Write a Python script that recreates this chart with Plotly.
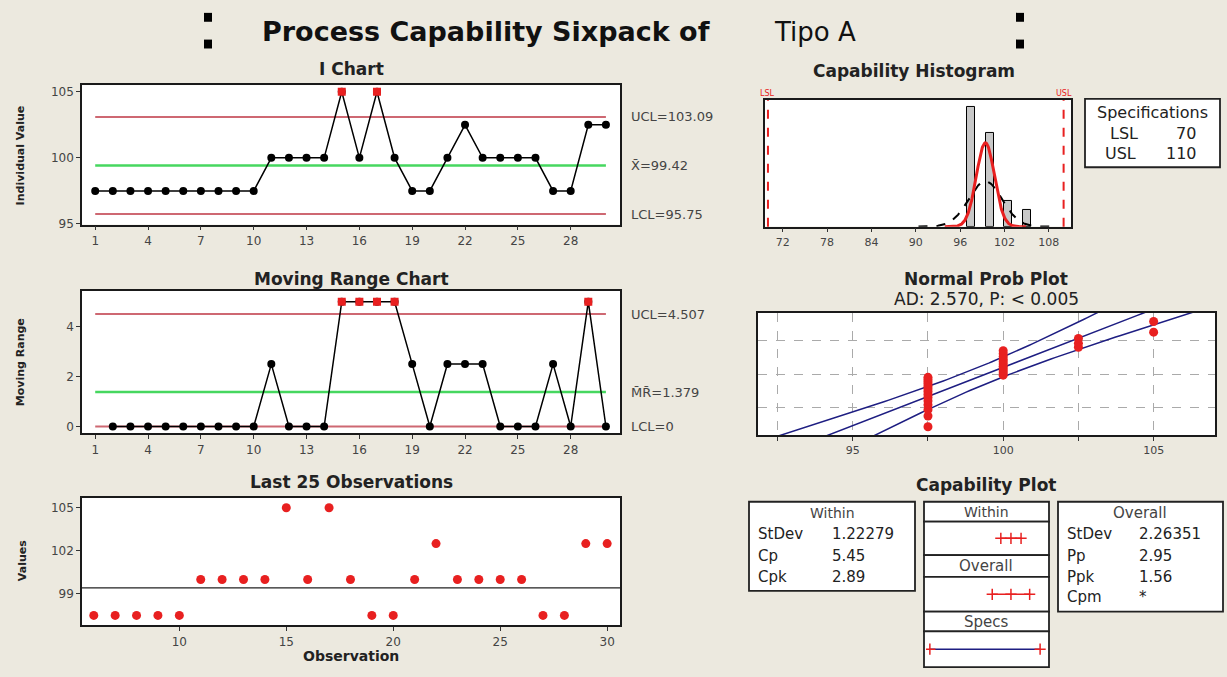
import plotly.graph_objects as go
from statistics import NormalDist

# ---------------- data ----------------
observations = list(range(1, 31))
individual_values = [97.5, 97.5, 97.5, 97.5, 97.5, 97.5, 97.5, 97.5, 97.5, 97.5,
                     100, 100, 100, 100, 105, 100, 105, 100, 97.5, 97.5,
                     100, 102.5, 100, 100, 100, 100, 97.5, 97.5, 102.5, 102.5]
mr_observations = list(range(2, 31))
moving_ranges = [0, 0, 0, 0, 0, 0, 0, 0, 0, 2.5,
                 0, 0, 0, 5, 5, 5, 5, 2.5, 0, 2.5,
                 2.5, 2.5, 0, 0, 0, 2.5, 0, 5, 0]
i_flagged = [15, 17]
mr_flagged = [15, 16, 17, 18, 29]
i_ucl, i_center, i_lcl = 103.09, 99.42, 95.75
mr_ucl, mr_center, mr_lcl = 4.507, 1.379, 0.0
last25_obs = observations[5:]
last25_values = individual_values[5:]
hist_centers = [97.5, 100, 102.5, 105]
hist_counts = [14, 11, 3, 2]
hist_ticks = [72, 78, 84, 90, 96, 102, 108]
lsl, usl = 70, 110
stdev_within = 1.22279
stdev_overall = 2.26351
cp, cpk = "5.45", "2.89"
pp, ppk, cpm = "2.95", "1.56", "*"
ad_text = "AD: 2.570, P: < 0.005"
n_obs = len(individual_values)

# ---------------- helpers ----------------
W, H = 1227, 677
def px(x):
    return x / W
def py(y):
    return 1 - y / H

BG = "rgb(236,233,223)"
FONT = "DejaVu Sans"
LIM = "rgb(206,104,114)"
GREEN = "rgb(70,215,95)"
RED = "rgb(232,32,32)"
NAVY = "rgb(30,30,130)"

def base_axis(rng, **kw):
    d = dict(range=rng, showline=True, mirror=True, linecolor="#1a1a1a", linewidth=1.5,
             ticks="outside", ticklen=4, tickcolor="#333", showgrid=False, zeroline=False,
             tickfont=dict(size=12, color="#444", family=FONT), fixedrange=True)
    d.update(kw)
    return d

def xax(xr, rng, **kw):
    d = base_axis(rng, **kw)
    d["domain"] = [px(xr[0]), px(xr[1])]
    return d

def yax(yr, rng, **kw):
    d = base_axis(rng, **kw)
    d["domain"] = [py(yr[1]), py(yr[0])]
    return d

fig = go.Figure()
L, R = 82, 620

# ---------------- I chart ----------------
for yv in (i_ucl, i_lcl):
    fig.add_trace(go.Scatter(x=[observations[0], observations[-1]], y=[yv, yv], mode="lines",
                             line=dict(color=LIM, width=2), xaxis="x", yaxis="y"))
fig.add_trace(go.Scatter(x=[observations[0], observations[-1]], y=[i_center, i_center], mode="lines",
                         line=dict(color=GREEN, width=2.5), xaxis="x", yaxis="y"))
fig.add_trace(go.Scatter(x=observations, y=individual_values, mode="lines+markers",
                         line=dict(color="black", width=1.5), marker=dict(color="black", size=8),
                         xaxis="x", yaxis="y"))
fig.add_trace(go.Scatter(x=i_flagged, y=[individual_values[o - 1] for o in i_flagged], mode="markers",
                         marker=dict(color=RED, size=8, symbol="square"), xaxis="x", yaxis="y"))

# ---------------- MR chart ----------------
for yv in (mr_ucl, mr_lcl):
    fig.add_trace(go.Scatter(x=[observations[0], observations[-1]], y=[yv, yv], mode="lines",
                             line=dict(color=LIM, width=2), xaxis="x2", yaxis="y2"))
fig.add_trace(go.Scatter(x=[observations[0], observations[-1]], y=[mr_center, mr_center], mode="lines",
                         line=dict(color=GREEN, width=2.5), xaxis="x2", yaxis="y2"))
fig.add_trace(go.Scatter(x=mr_observations, y=moving_ranges, mode="lines+markers",
                         line=dict(color="black", width=1.5), marker=dict(color="black", size=8),
                         xaxis="x2", yaxis="y2"))
fig.add_trace(go.Scatter(x=mr_flagged, y=[moving_ranges[o - 2] for o in mr_flagged], mode="markers",
                         marker=dict(color=RED, size=8, symbol="square"), xaxis="x2", yaxis="y2"))

# ---------------- Last 25 ----------------
fig.add_trace(go.Scatter(x=last25_obs, y=last25_values, mode="markers",
                         marker=dict(color=RED, size=9), xaxis="x3", yaxis="y3"))

# ---------------- Histogram ----------------
fig.add_trace(go.Bar(x=hist_centers, y=hist_counts, width=1.1,
                     marker=dict(color="rgb(200,200,200)", line=dict(color="black", width=1)),
                     xaxis="x4", yaxis="y4"))
curve_scale = n_obs * 1.0
nd_w = NormalDist(i_center, stdev_within)
nd_o = NormalDist(i_center, stdev_overall)
xs_w = [i_center - 4.5 * stdev_within + k * (9 * stdev_within) / 200 for k in range(201)]
xs_o = [i_center - 4.0 * stdev_overall + k * (8 * stdev_overall) / 200 for k in range(201)]
fig.add_trace(go.Scatter(x=xs_o, y=[nd_o.pdf(v) * curve_scale for v in xs_o], mode="lines",
                         line=dict(color="black", width=2, dash="dash"), xaxis="x4", yaxis="y4"))
fig.add_trace(go.Scatter(x=xs_w, y=[nd_w.pdf(v) * curve_scale for v in xs_w], mode="lines",
                         line=dict(color=RED, width=3), xaxis="x4", yaxis="y4"))

# ---------------- Normal probability plot ----------------
sv = sorted(individual_values)
std_n = NormalDist()
zs = [std_n.inv_cdf((i + 1 - 0.3) / (n_obs + 0.4)) for i in range(n_obs)]
zline = [-2.6 + k * 5.2 / 100 for k in range(101)]
mid = [i_center + z * stdev_overall for z in zline]
half = [1.96 * stdev_overall * ((1 + z * z / 2) / n_obs) ** 0.5 for z in zline]
for sign in (-1, 0, 1):
    fig.add_trace(go.Scatter(x=[m + sign * h for m, h in zip(mid, half)], y=zline, mode="lines",
                             line=dict(color=NAVY, width=1.5), xaxis="x5", yaxis="y5"))
fig.add_trace(go.Scatter(x=sv, y=zs, mode="markers", marker=dict(color=RED, size=9),
                         xaxis="x5", yaxis="y5"))

# ---------------- Capability plot mini panels ----------------
within_marks = [i_lcl, i_center, i_ucl]
overall_marks = [i_center - 3 * stdev_overall, i_center, i_center + 3 * stdev_overall]
spec_marks = [lsl, usl]
for xs, ax_id, lc in ((within_marks, "6", RED), (overall_marks, "7", RED), (spec_marks, "8", NAVY)):
    fig.add_trace(go.Scatter(x=xs, y=[0.5] * len(xs), mode="lines+markers",
                             line=dict(color=lc, width=1.5),
                             marker=dict(symbol="cross-thin", size=8, color=RED, line=dict(color=RED, width=1.5)),
                             xaxis="x" + ax_id, yaxis="y" + ax_id))

# ---------------- layout / axes ----------------
layout = dict(
    width=W, height=H, margin=dict(l=0, r=0, t=0, b=0),
    paper_bgcolor=BG, plot_bgcolor="white", showlegend=False,
    font=dict(family=FONT, color="#333"), bargap=0,
)
layout["xaxis"] = xax((L, R), [0.25, 30.8], tickvals=observations[::3], anchor="y")
layout["yaxis"] = yax((86, 227), [94.95, 105.5], tickvals=[95, 100, 105], anchor="x")
layout["xaxis2"] = xax((L, R), [0.25, 30.8], tickvals=observations[::3], anchor="y2")
layout["yaxis2"] = yax((294, 438), [-0.28, 5.43], tickvals=[0, 2, 4], anchor="x2")
layout["xaxis3"] = xax((L, R), [5.45, 30.6], tickvals=[10, 15, 20, 25, 30], anchor="y3")
layout["yaxis3"] = yax((503, 632), [96.8, 105.69], tickvals=[99, 102, 105], anchor="x3")
layout["xaxis4"] = xax((765, 1071), [69.6, 111], tickvals=hist_ticks, anchor="y4",
                       tickfont=dict(size=11, color="#444", family=FONT))
layout["yaxis4"] = yax((101, 229), [0, 14.8], showticklabels=False, ticks="", anchor="x4")
layout["xaxis5"] = xax((758, 1215), [91.85, 107.04], tickvals=[92.5, 95, 97.5, 100, 102.5, 105],
                       ticktext=["", "95", "", "100", "", "105"], showgrid=True,
                       gridcolor="rgb(170,170,170)", griddash="dash", gridwidth=1, anchor="y5",
                       tickfont=dict(size=11, color="#444", family=FONT))
layout["yaxis5"] = yax((316, 440), [-2.326, 2.326], tickvals=[-1.2816, 0, 1.2816], showticklabels=False,
                       ticks="", showgrid=True, gridcolor="rgb(170,170,170)", griddash="dash", anchor="x5")
cap_rows = {"6": (527, 561), "7": (583, 618), "8": (638, 674)}
for k, (t, b) in cap_rows.items():
    layout["xaxis" + k] = dict(domain=[px(926), px(1047)], range=[68.6, 112.5], visible=False,
                               anchor="y" + k, fixedrange=True)
    layout["yaxis" + k] = dict(domain=[py(b), py(t)], range=[0, 1], visible=False,
                               anchor="x" + k, fixedrange=True)
fig.update_layout(**layout)

# ---------------- shapes ----------------
shapes = []
for (x0, y0) in ((204, 13), (204, 40), (1016, 13), (1016, 40)):
    shapes.append(dict(type="rect", xref="paper", yref="paper", x0=px(x0), x1=px(x0 + 8),
                       y0=py(y0 + 9), y1=py(y0), fillcolor="black", line=dict(width=0)))
shapes.append(dict(type="line", xref="x3 domain", yref="y3", x0=0, x1=1, y0=i_center, y1=i_center,
                   line=dict(color="#222", width=1.2)))
for v in (lsl, usl):
    shapes.append(dict(type="line", xref="x4", yref="y4 domain", x0=v, x1=v, y0=0, y1=1,
                       line=dict(color=RED, width=2, dash="dash")))
def box(x0, y0, x1, y1, fill="white", w=1.8):
    shapes.append(dict(type="rect", xref="paper", yref="paper", x0=px(x0), x1=px(x1),
                       y0=py(y1), y1=py(y0), fillcolor=fill, line=dict(color="#222", width=w),
                       layer="below"))
box(1085, 100, 1220, 169)
box(749, 507, 915, 597)
box(1058, 507, 1223, 618)
for (t, b) in ((507, 527), (527, 561), (561, 583), (583, 618), (618, 638), (638, 674)):
    box(924, t, 1049, b)
fig.update_layout(shapes=shapes)

# ---------------- annotations ----------------
ann = []
def text(x, y, s, size=12, anchor="center", color="#333", bold=False, angle=0, yanchor="middle"):
    ann.append(dict(x=px(x), y=py(y), xref="paper", yref="paper", text=("<b>%s</b>" % s) if bold else s,
                    showarrow=False, xanchor=anchor, yanchor=yanchor, textangle=angle,
                    font=dict(size=size, color=color, family=FONT)))

text(260, 32, "Process Capability Sixpack of", size=27, anchor="left", color="#111", bold=True)
text(772, 32, "Tipo A", size=26, anchor="left", color="#111")
text(351, 70, "I Chart", size=17, bold=True, color="#222")
text(351, 282, "Moving Range Chart", size=17, bold=True, color="#222")
text(351, 487, "Last 25 Observations", size=17, bold=True, color="#222")
text(914, 72, "Capability Histogram", size=17, bold=True, color="#222")
text(986, 282, "Normal Prob Plot", size=17, bold=True, color="#222")
text(986, 302, ad_text, size=17, color="#222")
text(986, 490, "Capability Plot", size=17, bold=True, color="#222")
text(20, 157, "Individual Value", size=11, bold=True, angle=-90, color="#222")
text(20, 366, "Moving Range", size=11, bold=True, angle=-90, color="#222")
text(22, 567, "Values", size=11, bold=True, angle=-90, color="#222")
text(351, 663, "Observation", size=14, bold=True, color="#222")

def ylabel(axis_y, val, s):
    ann.append(dict(x=px(629), y=val, xref="paper", yref=axis_y, text=s, showarrow=False,
                    xanchor="left", yanchor="middle", font=dict(size=13, color="#444", family=FONT)))
ylabel("y", i_ucl, "UCL=%.2f" % i_ucl)
ylabel("y", i_center, "X\u0304=%.2f" % i_center)
ylabel("y", i_lcl, "LCL=%.2f" % i_lcl)
ylabel("y2", mr_ucl, "UCL=%.3f" % mr_ucl)
ylabel("y2", mr_center, "M\u0304R\u0304=%.3f" % mr_center)
ylabel("y2", mr_lcl, "LCL=%g" % mr_lcl)

for v, s in ((lsl, "LSL"), (usl, "USL")):
    ann.append(dict(x=v, y=py(94), xref="x4", yref="paper", text=s, showarrow=False,
                    xanchor="center", yanchor="middle", font=dict(size=8, color=RED, family=FONT)))

text(1152, 114, "Specifications", size=16, color="#222")
text(1108, 135, "LSL", size=16, anchor="left", color="#222")
text(1198, 135, str(lsl), size=16, anchor="right", color="#222")
text(1103, 155, "USL", size=16, anchor="left", color="#222")
text(1199, 155, str(usl), size=16, anchor="right", color="#222")

text(832, 518, "Within", size=14, color="#444")
for yy, lab, val in ((540, "StDev", "%.5f" % stdev_within), (562, "Cp", cp), (583, "Cpk", cpk)):
    text(756, yy, lab, size=15, anchor="left", color="#222")
    text(830, yy, val, size=15, anchor="left", color="#222")
text(1140, 518, "Overall", size=15, color="#444")
for yy, lab, val in ((540, "StDev", "%.5f" % stdev_overall), (562, "Pp", pp), (583, "Ppk", ppk), (603, "Cpm", cpm)):
    text(1065, yy, lab, size=15, anchor="left", color="#222")
    text(1137, yy, val, size=15, anchor="left", color="#222")
text(986, 517, "Within", size=14, color="#444")
text(986, 572, "Overall", size=15, color="#444")
text(986, 628, "Specs", size=15, color="#444")

fig.update_layout(annotations=ann)
fig.write_html("out.html", config={"displayModeBar": False},
               post_script="document.body.style.margin='0px';document.body.style.overflow='hidden';")
